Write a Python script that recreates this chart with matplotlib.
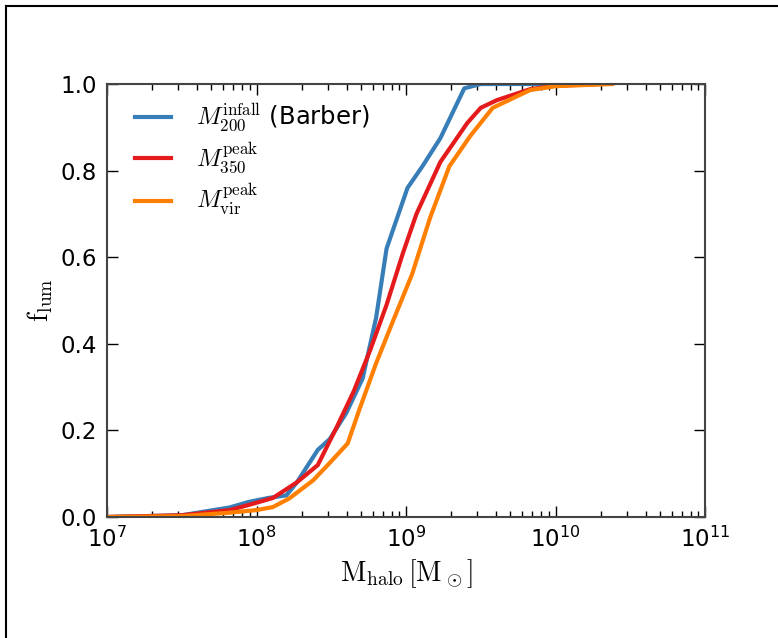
import numpy as np
import matplotlib.pyplot as plt
from matplotlib.lines import Line2D

# =============================================================================
# data (log10 of halo mass, luminous fraction)
# =============================================================================
logm_barber = [7.0, 7.5, 7.82, 7.95, 8.08, 8.2, 8.27, 8.41, 8.49, 8.6, 8.71,
               8.8, 8.87, 8.91, 9.01, 9.11, 9.23, 9.39, 9.5, 10.0]
f_barber = [0.0, 0.004, 0.022, 0.035, 0.044, 0.05, 0.08, 0.155, 0.18, 0.24,
            0.32, 0.46, 0.62, 0.66, 0.76, 0.81, 0.875, 0.99, 1.0, 1.0]

logm_350 = [7.0, 7.5, 7.82, 7.95, 8.11, 8.27, 8.41, 8.54, 8.65, 8.76, 8.87,
            8.98, 9.07, 9.23, 9.41, 9.5, 9.61, 9.83, 10.0, 10.3]
f_350 = [0.0, 0.004, 0.016, 0.028, 0.044, 0.08, 0.12, 0.21, 0.29, 0.385,
         0.49, 0.61, 0.70, 0.82, 0.91, 0.945, 0.963, 0.988, 0.996, 1.0]

logm_vir = [7.0, 7.5, 7.82, 8.0, 8.11, 8.22, 8.38, 8.49, 8.61, 8.69, 8.8,
            8.91, 9.04, 9.16, 9.29, 9.43, 9.58, 9.83, 10.0, 10.38]
f_vir = [0.0, 0.002, 0.01, 0.016, 0.023, 0.043, 0.085, 0.125, 0.17, 0.25,
         0.355, 0.45, 0.56, 0.69, 0.81, 0.88, 0.945, 0.986, 0.995, 1.0]

labels = [r'$M_{200}^{\rm infall}$ (Barber)', r'$M_{350}^{\rm peak}$',
          r'$M_{\rm vir}^{\rm peak}$']
colors = ['#377eb8', '#e41a1c', '#ff7f00']

# =============================================================================
# plot
# =============================================================================
plt.rcParams['mathtext.fontset'] = 'cm'
plt.rcParams['font.size'] = 16.5

fig = plt.figure(figsize=(7.78, 6.38), dpi=100)
ax = fig.add_axes([107/778, 1-517/638, 598/778, 433/638])

curves = [(logm_barber, f_barber), (logm_350, f_350), (logm_vir, f_vir)]
for (lm, f), c, lab in zip(curves, colors, labels):
    ax.plot(10**np.array(lm), f, color=c, lw=3, label=lab)

ax.set_xscale('log')
ax.set_xlim(1e7, 1e11)
ax.set_ylim(0, 1)
ax.set_yticks([0, 0.2, 0.4, 0.6, 0.8, 1.0])
ax.tick_params(which='both', direction='in', top=True, right=True)
ax.tick_params(which='major', length=8, width=1, pad=7)
ax.tick_params(which='minor', length=4, width=1)
for s in ax.spines.values():
    s.set_linewidth(1.5)
    s.set_color('#444444')

ax.set_xlabel(r'$\mathrm{M_{halo}\,[M_\odot]}$', fontsize=20)
ax.set_ylabel(r'$\mathrm{f_{lum}}$', fontsize=20, labelpad=4)

ax.legend(loc='upper left', frameon=False, fontsize=17.5, handlelength=1.5,
          handletextpad=1.0, borderaxespad=0.0, borderpad=0.0,
          labelspacing=0.3, bbox_to_anchor=(28/598, 1-18/433))

# screenshot frame (top and left edges)
fig.add_artist(Line2D([6/778, 1], [1-6/638, 1-6/638], color='black', lw=1.5))
fig.add_artist(Line2D([6/778, 6/778], [0, 1-6/638], color='black', lw=1.5))

fig.savefig('out.png', dpi=100)
